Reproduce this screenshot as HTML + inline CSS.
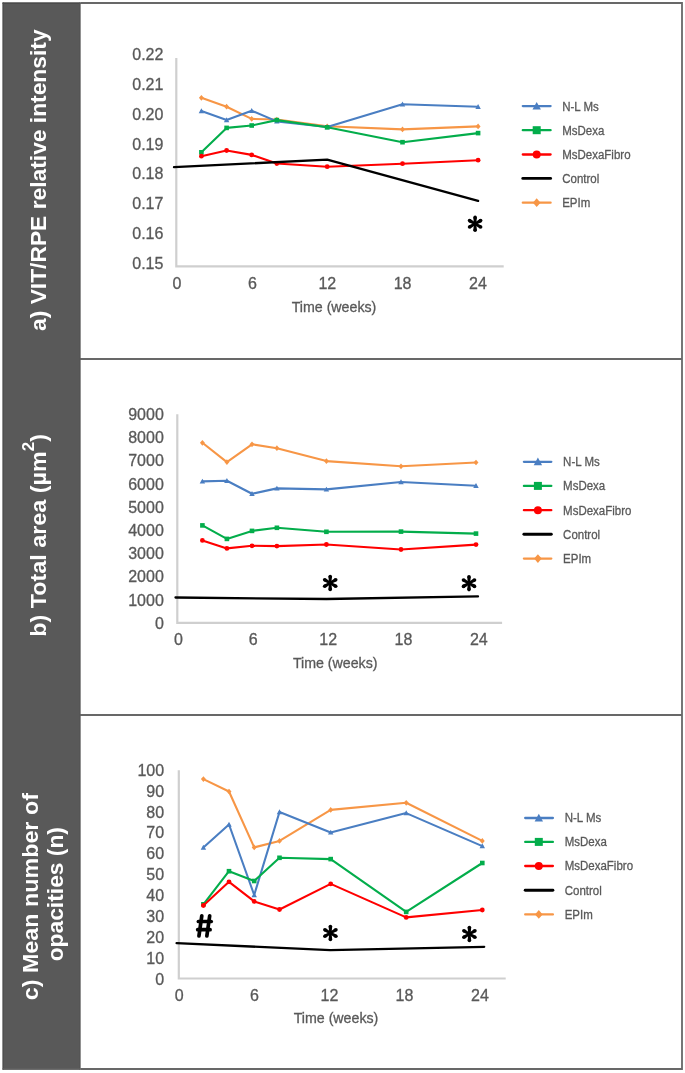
<!DOCTYPE html><html><head><meta charset="utf-8"><style>html,body{margin:0;padding:0;background:#fff}svg{display:block;will-change:transform}text{font-family:"Liberation Sans",sans-serif}text.t{stroke:#595959;stroke-width:0.3px}</style></head><body>
<svg width="685" height="1073" viewBox="0 0 685 1073">
<rect x="0" y="0" width="685" height="1073" fill="#fff"/>
<rect x="2.5" y="2.5" width="78" height="1067.3" fill="#595959"/>
<line x1="80" y1="359" x2="682" y2="359" stroke="#686868" stroke-width="1.8"/>
<line x1="80" y1="715" x2="682" y2="715" stroke="#686868" stroke-width="1.8"/>
<path d="M80.5,3 H682 V1069 H80.5" fill="none" stroke="#686868" stroke-width="1.8"/>
<line x1="2.5" y1="3.3" x2="80.5" y2="3.3" stroke="#4b4b4b" stroke-width="1.4"/>
<line x1="3.3" y1="2.5" x2="3.3" y2="1069.8" stroke="#505050" stroke-width="1.2"/>
<line x1="79.8" y1="2.5" x2="79.8" y2="1069.8" stroke="#555" stroke-width="1"/>
<line x1="2.5" y1="1068.9" x2="80.5" y2="1068.9" stroke="#626262" stroke-width="1.2"/>
<g font-weight="bold" fill="#fff" font-size="22.8" text-anchor="middle">
<text transform="translate(46.3,180.2) rotate(-90)">a) VIT/RPE relative intensity</text>
<text transform="translate(46.1,535.4) rotate(-90) scale(1.024,1)">b) Total area (µm<tspan font-size="16.5" dy="-12">2</tspan><tspan dy="12">)</tspan></text>
<text transform="translate(37.6,896.7) rotate(-90) scale(1.023,1)">c) Mean number of</text>
<text transform="translate(63.1,894.2) rotate(-90)">opacities (n)</text>
</g>
<path d="M176.3,58 V266.4 H503.7" fill="none" stroke="#CFCFCF" stroke-width="2.2"/>
<text class="t" x="163.4" y="59.73" text-anchor="end" font-size="16" fill="#595959">0.22</text>
<text class="t" x="163.4" y="89.66" text-anchor="end" font-size="16" fill="#595959">0.21</text>
<text class="t" x="163.4" y="119.59" text-anchor="end" font-size="16" fill="#595959">0.20</text>
<text class="t" x="163.4" y="149.52" text-anchor="end" font-size="16" fill="#595959">0.19</text>
<text class="t" x="163.4" y="179.45" text-anchor="end" font-size="16" fill="#595959">0.18</text>
<text class="t" x="163.4" y="209.38" text-anchor="end" font-size="16" fill="#595959">0.17</text>
<text class="t" x="163.4" y="239.31" text-anchor="end" font-size="16" fill="#595959">0.16</text>
<text class="t" x="163.4" y="269.24" text-anchor="end" font-size="16" fill="#595959">0.15</text>
<text class="t" x="177" y="288.6" text-anchor="middle" font-size="16" fill="#595959">0</text>
<text class="t" x="252.4" y="288.6" text-anchor="middle" font-size="16" fill="#595959">6</text>
<text class="t" x="327.3" y="288.6" text-anchor="middle" font-size="16" fill="#595959">12</text>
<text class="t" x="402.6" y="288.6" text-anchor="middle" font-size="16" fill="#595959">18</text>
<text class="t" x="477.9" y="288.6" text-anchor="middle" font-size="16" fill="#595959">24</text>
<text class="t" x="334" y="312" text-anchor="middle" font-size="14.2" fill="#595959">Time (weeks)</text>
<polyline points="201.4,97.8 226.6,106.7 251.7,118.9 276.8,119.5 327.2,126.3 402.5,129.4 478.1,126.4" fill="none" stroke="#F79646" stroke-width="2.1" stroke-linejoin="round" stroke-linecap="round"/>
<polygon points="201.4,94.94 203.87,97.8 201.4,100.66 198.93,97.8" fill="#F79646"/>
<polygon points="226.6,103.84 229.07,106.7 226.6,109.56 224.13,106.7" fill="#F79646"/>
<polygon points="251.7,116.04 254.17,118.9 251.7,121.76 249.23,118.9" fill="#F79646"/>
<polygon points="276.8,116.64 279.27,119.5 276.8,122.36 274.33,119.5" fill="#F79646"/>
<polygon points="327.2,123.44 329.67,126.3 327.2,129.16 324.73,126.3" fill="#F79646"/>
<polygon points="402.5,126.54 404.97,129.4 402.5,132.26 400.03,129.4" fill="#F79646"/>
<polygon points="478.1,123.54 480.57,126.4 478.1,129.26 475.63,126.4" fill="#F79646"/>
<polyline points="201.4,111.1 226.6,120 251.7,110.7 276.8,121.4 327.2,127 402.5,104.2 478.1,106.8" fill="none" stroke="#4A7EC2" stroke-width="2.1" stroke-linejoin="round" stroke-linecap="round"/>
<polygon points="201.4,108.37 198.67,113.31 204.13,113.31" fill="#4A7EC2"/>
<polygon points="226.6,117.27 223.87,122.21 229.33,122.21" fill="#4A7EC2"/>
<polygon points="251.7,107.97 248.97,112.91 254.43,112.91" fill="#4A7EC2"/>
<polygon points="276.8,118.67 274.07,123.61 279.53,123.61" fill="#4A7EC2"/>
<polygon points="327.2,124.27 324.47,129.21 329.93,129.21" fill="#4A7EC2"/>
<polygon points="402.5,101.47 399.77,106.41 405.23,106.41" fill="#4A7EC2"/>
<polygon points="478.1,104.07 475.37,109.01 480.83,109.01" fill="#4A7EC2"/>
<polyline points="201.4,152.3 226.6,127.9 251.7,125.5 276.8,120.1 327.2,127.3 402.5,142.2 478.1,133.1" fill="none" stroke="#03AD4B" stroke-width="2.1" stroke-linejoin="round" stroke-linecap="round"/>
<rect x="199.1" y="150" width="4.6" height="4.6" fill="#03AD4B"/>
<rect x="224.3" y="125.6" width="4.6" height="4.6" fill="#03AD4B"/>
<rect x="249.4" y="123.2" width="4.6" height="4.6" fill="#03AD4B"/>
<rect x="274.5" y="117.8" width="4.6" height="4.6" fill="#03AD4B"/>
<rect x="324.9" y="125" width="4.6" height="4.6" fill="#03AD4B"/>
<rect x="400.2" y="139.9" width="4.6" height="4.6" fill="#03AD4B"/>
<rect x="475.8" y="130.8" width="4.6" height="4.6" fill="#03AD4B"/>
<polyline points="201.4,156.2 226.6,150.5 251.7,154.9 276.8,163.5 327.2,166.7 402.5,163.7 478.1,160.2" fill="none" stroke="#FF0000" stroke-width="2.1" stroke-linejoin="round" stroke-linecap="round"/>
<circle cx="201.4" cy="156.2" r="2.4" fill="#FF0000"/>
<circle cx="226.6" cy="150.5" r="2.4" fill="#FF0000"/>
<circle cx="251.7" cy="154.9" r="2.4" fill="#FF0000"/>
<circle cx="276.8" cy="163.5" r="2.4" fill="#FF0000"/>
<circle cx="327.2" cy="166.7" r="2.4" fill="#FF0000"/>
<circle cx="402.5" cy="163.7" r="2.4" fill="#FF0000"/>
<circle cx="478.1" cy="160.2" r="2.4" fill="#FF0000"/>
<polyline points="174,167.1 327.2,159.7 478.1,200.9" fill="none" stroke="#000000" stroke-width="2.3" stroke-linejoin="round" stroke-linecap="round"/>
<line x1="522.8" y1="106.1" x2="550.6" y2="106.1" stroke="#4A7EC2" stroke-width="2.3" stroke-linecap="round"/>
<polygon points="536.7,101.9 532.5,109.5 540.9,109.5" fill="#4A7EC2"/>
<text class="t" transform="translate(562.2,110.5) scale(0.92,1)" font-size="12.5" fill="#595959">N-L Ms</text>
<line x1="522.8" y1="130.2" x2="550.6" y2="130.2" stroke="#03AD4B" stroke-width="2.3" stroke-linecap="round"/>
<rect x="532.7" y="126.2" width="8" height="8" fill="#03AD4B"/>
<text class="t" transform="translate(562.2,134.6) scale(0.92,1)" font-size="12.5" fill="#595959">MsDexa</text>
<line x1="522.8" y1="154.5" x2="550.6" y2="154.5" stroke="#FF0000" stroke-width="2.3" stroke-linecap="round"/>
<circle cx="536.7" cy="154.5" r="4" fill="#FF0000"/>
<text class="t" transform="translate(562.2,158.9) scale(0.92,1)" font-size="12.5" fill="#595959">MsDexaFibro</text>
<line x1="522.8" y1="178.4" x2="550.6" y2="178.4" stroke="#000000" stroke-width="2.9" stroke-linecap="round"/>
<text class="t" transform="translate(562.2,182.8) scale(0.92,1)" font-size="12.5" fill="#595959">Control</text>
<line x1="522.8" y1="202.7" x2="550.6" y2="202.7" stroke="#F79646" stroke-width="2.3" stroke-linecap="round"/>
<polygon points="536.7,198.3 540.5,202.7 536.7,207.1 532.9,202.7" fill="#F79646"/>
<text class="t" transform="translate(562.2,207.1) scale(0.92,1)" font-size="12.5" fill="#595959">EPIm</text>
<path d="M476.25,223.8 L476.9,217.4 L473.3,217.4 L473.95,223.8 Z" fill="#000"/><circle cx="475.1" cy="217.4" r="1.8" fill="#000"/><path d="M475.68,224.8 L481.54,222.16 L479.74,219.04 L474.53,222.8 Z" fill="#000"/><circle cx="480.64" cy="220.6" r="1.8" fill="#000"/><path d="M474.53,224.8 L479.74,228.56 L481.54,225.44 L475.68,222.8 Z" fill="#000"/><circle cx="480.64" cy="227" r="1.8" fill="#000"/><path d="M473.95,223.8 L473.3,230.2 L476.9,230.2 L476.25,223.8 Z" fill="#000"/><circle cx="475.1" cy="230.2" r="1.8" fill="#000"/><path d="M474.53,222.8 L468.66,225.44 L470.46,228.56 L475.68,224.8 Z" fill="#000"/><circle cx="469.56" cy="227" r="1.8" fill="#000"/><path d="M475.68,222.8 L470.46,219.04 L468.66,222.16 L474.53,224.8 Z" fill="#000"/><circle cx="469.56" cy="220.6" r="1.8" fill="#000"/>
<path d="M177.3,414.2 V622.8 H502.1" fill="none" stroke="#CFCFCF" stroke-width="2.2"/>
<text class="t" x="163.8" y="420.13" text-anchor="end" font-size="16" fill="#595959">9000</text>
<text class="t" x="163.8" y="443.31" text-anchor="end" font-size="16" fill="#595959">8000</text>
<text class="t" x="163.8" y="466.49" text-anchor="end" font-size="16" fill="#595959">7000</text>
<text class="t" x="163.8" y="489.67" text-anchor="end" font-size="16" fill="#595959">6000</text>
<text class="t" x="163.8" y="512.85" text-anchor="end" font-size="16" fill="#595959">5000</text>
<text class="t" x="163.8" y="536.03" text-anchor="end" font-size="16" fill="#595959">4000</text>
<text class="t" x="163.8" y="559.21" text-anchor="end" font-size="16" fill="#595959">3000</text>
<text class="t" x="163.8" y="582.39" text-anchor="end" font-size="16" fill="#595959">2000</text>
<text class="t" x="163.8" y="605.57" text-anchor="end" font-size="16" fill="#595959">1000</text>
<text class="t" x="163.8" y="628.75" text-anchor="end" font-size="16" fill="#595959">0</text>
<text class="t" x="178.4" y="644.7" text-anchor="middle" font-size="16" fill="#595959">0</text>
<text class="t" x="253.3" y="644.7" text-anchor="middle" font-size="16" fill="#595959">6</text>
<text class="t" x="328.2" y="644.7" text-anchor="middle" font-size="16" fill="#595959">12</text>
<text class="t" x="403.5" y="644.7" text-anchor="middle" font-size="16" fill="#595959">18</text>
<text class="t" x="478.8" y="644.7" text-anchor="middle" font-size="16" fill="#595959">24</text>
<text class="t" x="335.2" y="667.9" text-anchor="middle" font-size="14.2" fill="#595959">Time (weeks)</text>
<polyline points="202.4,442.8 226.9,462.1 252,444.3 276.9,448.2 326.4,461.1 401,466.3 476,462.5" fill="none" stroke="#F79646" stroke-width="2.1" stroke-linejoin="round" stroke-linecap="round"/>
<polygon points="202.4,439.94 204.87,442.8 202.4,445.66 199.93,442.8" fill="#F79646"/>
<polygon points="226.9,459.24 229.37,462.1 226.9,464.96 224.43,462.1" fill="#F79646"/>
<polygon points="252,441.44 254.47,444.3 252,447.16 249.53,444.3" fill="#F79646"/>
<polygon points="276.9,445.34 279.37,448.2 276.9,451.06 274.43,448.2" fill="#F79646"/>
<polygon points="326.4,458.24 328.87,461.1 326.4,463.96 323.93,461.1" fill="#F79646"/>
<polygon points="401,463.44 403.47,466.3 401,469.16 398.53,466.3" fill="#F79646"/>
<polygon points="476,459.64 478.47,462.5 476,465.36 473.53,462.5" fill="#F79646"/>
<polyline points="202.4,481.4 226.9,480.7 252,493.8 276.9,488.4 326.4,489.4 401,482 476,485.7" fill="none" stroke="#4A7EC2" stroke-width="2.1" stroke-linejoin="round" stroke-linecap="round"/>
<polygon points="202.4,478.67 199.67,483.61 205.13,483.61" fill="#4A7EC2"/>
<polygon points="226.9,477.97 224.17,482.91 229.63,482.91" fill="#4A7EC2"/>
<polygon points="252,491.07 249.27,496.01 254.73,496.01" fill="#4A7EC2"/>
<polygon points="276.9,485.67 274.17,490.61 279.63,490.61" fill="#4A7EC2"/>
<polygon points="326.4,486.67 323.67,491.61 329.13,491.61" fill="#4A7EC2"/>
<polygon points="401,479.27 398.27,484.21 403.73,484.21" fill="#4A7EC2"/>
<polygon points="476,482.97 473.27,487.91 478.73,487.91" fill="#4A7EC2"/>
<polyline points="202.4,525.4 226.9,538.9 252,530.9 276.9,527.8 326.4,531.8 401,531.6 476,533.6" fill="none" stroke="#03AD4B" stroke-width="2.1" stroke-linejoin="round" stroke-linecap="round"/>
<rect x="200.1" y="523.1" width="4.6" height="4.6" fill="#03AD4B"/>
<rect x="224.6" y="536.6" width="4.6" height="4.6" fill="#03AD4B"/>
<rect x="249.7" y="528.6" width="4.6" height="4.6" fill="#03AD4B"/>
<rect x="274.6" y="525.5" width="4.6" height="4.6" fill="#03AD4B"/>
<rect x="324.1" y="529.5" width="4.6" height="4.6" fill="#03AD4B"/>
<rect x="398.7" y="529.3" width="4.6" height="4.6" fill="#03AD4B"/>
<rect x="473.7" y="531.3" width="4.6" height="4.6" fill="#03AD4B"/>
<polyline points="202.4,540.4 226.9,548.4 252,545.8 276.9,546.1 326.4,544.5 401,549.5 476,544.6" fill="none" stroke="#FF0000" stroke-width="2.1" stroke-linejoin="round" stroke-linecap="round"/>
<circle cx="202.4" cy="540.4" r="2.4" fill="#FF0000"/>
<circle cx="226.9" cy="548.4" r="2.4" fill="#FF0000"/>
<circle cx="252" cy="545.8" r="2.4" fill="#FF0000"/>
<circle cx="276.9" cy="546.1" r="2.4" fill="#FF0000"/>
<circle cx="326.4" cy="544.5" r="2.4" fill="#FF0000"/>
<circle cx="401" cy="549.5" r="2.4" fill="#FF0000"/>
<circle cx="476" cy="544.6" r="2.4" fill="#FF0000"/>
<polyline points="175.5,597.5 326.4,599 478,596.4" fill="none" stroke="#000000" stroke-width="2.3" stroke-linejoin="round" stroke-linecap="round"/>
<line x1="523.9" y1="461.8" x2="551.3" y2="461.8" stroke="#4A7EC2" stroke-width="2.3" stroke-linecap="round"/>
<polygon points="537.9,457.6 533.7,465.2 542.1,465.2" fill="#4A7EC2"/>
<text class="t" transform="translate(563.1,466.2) scale(0.92,1)" font-size="12.5" fill="#595959">N-L Ms</text>
<line x1="523.9" y1="485.9" x2="551.3" y2="485.9" stroke="#03AD4B" stroke-width="2.3" stroke-linecap="round"/>
<rect x="533.9" y="481.9" width="8" height="8" fill="#03AD4B"/>
<text class="t" transform="translate(563.1,490.3) scale(0.92,1)" font-size="12.5" fill="#595959">MsDexa</text>
<line x1="523.9" y1="510.2" x2="551.3" y2="510.2" stroke="#FF0000" stroke-width="2.3" stroke-linecap="round"/>
<circle cx="537.9" cy="510.2" r="4" fill="#FF0000"/>
<text class="t" transform="translate(563.1,514.6) scale(0.92,1)" font-size="12.5" fill="#595959">MsDexaFibro</text>
<line x1="523.9" y1="534.3" x2="551.3" y2="534.3" stroke="#000000" stroke-width="2.9" stroke-linecap="round"/>
<text class="t" transform="translate(563.1,538.7) scale(0.92,1)" font-size="12.5" fill="#595959">Control</text>
<line x1="523.9" y1="558.6" x2="551.3" y2="558.6" stroke="#F79646" stroke-width="2.3" stroke-linecap="round"/>
<polygon points="537.9,554.2 541.7,558.6 537.9,563 534.1,558.6" fill="#F79646"/>
<text class="t" transform="translate(563.1,563) scale(0.92,1)" font-size="12.5" fill="#595959">EPIm</text>
<path d="M331.35,583 L332,576.6 L328.4,576.6 L329.05,583 Z" fill="#000"/><circle cx="330.2" cy="576.6" r="1.8" fill="#000"/><path d="M330.77,584 L336.64,581.36 L334.84,578.24 L329.62,582 Z" fill="#000"/><circle cx="335.74" cy="579.8" r="1.8" fill="#000"/><path d="M329.62,584 L334.84,587.76 L336.64,584.64 L330.77,582 Z" fill="#000"/><circle cx="335.74" cy="586.2" r="1.8" fill="#000"/><path d="M329.05,583 L328.4,589.4 L332,589.4 L331.35,583 Z" fill="#000"/><circle cx="330.2" cy="589.4" r="1.8" fill="#000"/><path d="M329.62,582 L323.76,584.64 L325.56,587.76 L330.77,584 Z" fill="#000"/><circle cx="324.66" cy="586.2" r="1.8" fill="#000"/><path d="M330.77,582 L325.56,578.24 L323.76,581.36 L329.62,584 Z" fill="#000"/><circle cx="324.66" cy="579.8" r="1.8" fill="#000"/>
<path d="M470.15,583.2 L470.8,576.8 L467.2,576.8 L467.85,583.2 Z" fill="#000"/><circle cx="469" cy="576.8" r="1.8" fill="#000"/><path d="M469.57,584.2 L475.44,581.56 L473.64,578.44 L468.43,582.2 Z" fill="#000"/><circle cx="474.54" cy="580" r="1.8" fill="#000"/><path d="M468.43,584.2 L473.64,587.96 L475.44,584.84 L469.57,582.2 Z" fill="#000"/><circle cx="474.54" cy="586.4" r="1.8" fill="#000"/><path d="M467.85,583.2 L467.2,589.6 L470.8,589.6 L470.15,583.2 Z" fill="#000"/><circle cx="469" cy="589.6" r="1.8" fill="#000"/><path d="M468.43,582.2 L462.56,584.84 L464.36,587.96 L469.57,584.2 Z" fill="#000"/><circle cx="463.46" cy="586.4" r="1.8" fill="#000"/><path d="M469.57,582.2 L464.36,578.44 L462.56,581.56 L468.43,584.2 Z" fill="#000"/><circle cx="463.46" cy="580" r="1.8" fill="#000"/>
<path d="M178.8,770.2 V978.5 H505.7" fill="none" stroke="#CFCFCF" stroke-width="2.2"/>
<text class="t" x="164.1" y="775.73" text-anchor="end" font-size="16" fill="#595959">100</text>
<text class="t" x="164.1" y="796.65" text-anchor="end" font-size="16" fill="#595959">90</text>
<text class="t" x="164.1" y="817.57" text-anchor="end" font-size="16" fill="#595959">80</text>
<text class="t" x="164.1" y="838.49" text-anchor="end" font-size="16" fill="#595959">70</text>
<text class="t" x="164.1" y="859.41" text-anchor="end" font-size="16" fill="#595959">60</text>
<text class="t" x="164.1" y="880.33" text-anchor="end" font-size="16" fill="#595959">50</text>
<text class="t" x="164.1" y="901.25" text-anchor="end" font-size="16" fill="#595959">40</text>
<text class="t" x="164.1" y="922.17" text-anchor="end" font-size="16" fill="#595959">30</text>
<text class="t" x="164.1" y="943.09" text-anchor="end" font-size="16" fill="#595959">20</text>
<text class="t" x="164.1" y="964.01" text-anchor="end" font-size="16" fill="#595959">10</text>
<text class="t" x="164.1" y="984.93" text-anchor="end" font-size="16" fill="#595959">0</text>
<text class="t" x="179.3" y="1001" text-anchor="middle" font-size="16" fill="#595959">0</text>
<text class="t" x="254.4" y="1001" text-anchor="middle" font-size="16" fill="#595959">6</text>
<text class="t" x="329.5" y="1001" text-anchor="middle" font-size="16" fill="#595959">12</text>
<text class="t" x="404.5" y="1001" text-anchor="middle" font-size="16" fill="#595959">18</text>
<text class="t" x="480" y="1001" text-anchor="middle" font-size="16" fill="#595959">24</text>
<text class="t" x="336" y="1023.4" text-anchor="middle" font-size="14.2" fill="#595959">Time (weeks)</text>
<polyline points="203.4,779.1 229,791.5 254.2,847.4 279.5,840.9 330.7,809.9 406.2,802.8 482.3,840.9" fill="none" stroke="#F79646" stroke-width="2.1" stroke-linejoin="round" stroke-linecap="round"/>
<polygon points="203.4,776.24 205.87,779.1 203.4,781.96 200.93,779.1" fill="#F79646"/>
<polygon points="229,788.64 231.47,791.5 229,794.36 226.53,791.5" fill="#F79646"/>
<polygon points="254.2,844.54 256.67,847.4 254.2,850.26 251.73,847.4" fill="#F79646"/>
<polygon points="279.5,838.04 281.97,840.9 279.5,843.76 277.03,840.9" fill="#F79646"/>
<polygon points="330.7,807.04 333.17,809.9 330.7,812.76 328.23,809.9" fill="#F79646"/>
<polygon points="406.2,799.94 408.67,802.8 406.2,805.66 403.73,802.8" fill="#F79646"/>
<polygon points="482.3,838.04 484.77,840.9 482.3,843.76 479.83,840.9" fill="#F79646"/>
<polyline points="203.4,847.5 229,824.5 254.2,895 279.5,812 330.7,832.4 406.2,813.1 482.3,846.1" fill="none" stroke="#4A7EC2" stroke-width="2.1" stroke-linejoin="round" stroke-linecap="round"/>
<polygon points="203.4,844.77 200.67,849.71 206.13,849.71" fill="#4A7EC2"/>
<polygon points="229,821.77 226.27,826.71 231.73,826.71" fill="#4A7EC2"/>
<polygon points="254.2,892.27 251.47,897.21 256.93,897.21" fill="#4A7EC2"/>
<polygon points="279.5,809.27 276.77,814.21 282.23,814.21" fill="#4A7EC2"/>
<polygon points="330.7,829.67 327.97,834.61 333.43,834.61" fill="#4A7EC2"/>
<polygon points="406.2,810.37 403.47,815.31 408.93,815.31" fill="#4A7EC2"/>
<polygon points="482.3,843.37 479.57,848.31 485.03,848.31" fill="#4A7EC2"/>
<polyline points="203.4,904.3 229,871.2 254.2,881 279.5,857.8 330.7,859.1 406.2,911.9 482.3,863" fill="none" stroke="#03AD4B" stroke-width="2.1" stroke-linejoin="round" stroke-linecap="round"/>
<rect x="201.1" y="902" width="4.6" height="4.6" fill="#03AD4B"/>
<rect x="226.7" y="868.9" width="4.6" height="4.6" fill="#03AD4B"/>
<rect x="251.9" y="878.7" width="4.6" height="4.6" fill="#03AD4B"/>
<rect x="277.2" y="855.5" width="4.6" height="4.6" fill="#03AD4B"/>
<rect x="328.4" y="856.8" width="4.6" height="4.6" fill="#03AD4B"/>
<rect x="403.9" y="909.6" width="4.6" height="4.6" fill="#03AD4B"/>
<rect x="480" y="860.7" width="4.6" height="4.6" fill="#03AD4B"/>
<polyline points="203.4,905.5 229,881.8 254.2,901.4 279.5,909.5 330.7,883.9 406.2,917.4 482.3,910" fill="none" stroke="#FF0000" stroke-width="2.1" stroke-linejoin="round" stroke-linecap="round"/>
<circle cx="203.4" cy="905.5" r="2.4" fill="#FF0000"/>
<circle cx="229" cy="881.8" r="2.4" fill="#FF0000"/>
<circle cx="254.2" cy="901.4" r="2.4" fill="#FF0000"/>
<circle cx="279.5" cy="909.5" r="2.4" fill="#FF0000"/>
<circle cx="330.7" cy="883.9" r="2.4" fill="#FF0000"/>
<circle cx="406.2" cy="917.4" r="2.4" fill="#FF0000"/>
<circle cx="482.3" cy="910" r="2.4" fill="#FF0000"/>
<polyline points="176.6,943.1 330.3,950.2 484.2,946.8" fill="none" stroke="#000000" stroke-width="2.3" stroke-linejoin="round" stroke-linecap="round"/>
<line x1="525.2" y1="818" x2="552.9" y2="818" stroke="#4A7EC2" stroke-width="2.3" stroke-linecap="round"/>
<polygon points="538.8,813.8 534.6,821.4 543,821.4" fill="#4A7EC2"/>
<text class="t" transform="translate(564.7,822.4) scale(0.92,1)" font-size="12.5" fill="#595959">N-L Ms</text>
<line x1="525.2" y1="841.9" x2="552.9" y2="841.9" stroke="#03AD4B" stroke-width="2.3" stroke-linecap="round"/>
<rect x="534.8" y="837.9" width="8" height="8" fill="#03AD4B"/>
<text class="t" transform="translate(564.7,846.3) scale(0.92,1)" font-size="12.5" fill="#595959">MsDexa</text>
<line x1="525.2" y1="866" x2="552.9" y2="866" stroke="#FF0000" stroke-width="2.3" stroke-linecap="round"/>
<circle cx="538.8" cy="866" r="4" fill="#FF0000"/>
<text class="t" transform="translate(564.7,870.4) scale(0.92,1)" font-size="12.5" fill="#595959">MsDexaFibro</text>
<line x1="525.2" y1="890.3" x2="552.9" y2="890.3" stroke="#000000" stroke-width="2.9" stroke-linecap="round"/>
<text class="t" transform="translate(564.7,894.7) scale(0.92,1)" font-size="12.5" fill="#595959">Control</text>
<line x1="525.2" y1="914.4" x2="552.9" y2="914.4" stroke="#F79646" stroke-width="2.3" stroke-linecap="round"/>
<polygon points="538.8,910 542.6,914.4 538.8,918.8 535,914.4" fill="#F79646"/>
<text class="t" transform="translate(564.7,918.8) scale(0.92,1)" font-size="12.5" fill="#595959">EPIm</text>
<path d="M331.55,933 L332.2,926.6 L328.6,926.6 L329.25,933 Z" fill="#000"/><circle cx="330.4" cy="926.6" r="1.8" fill="#000"/><path d="M330.97,934 L336.84,931.36 L335.04,928.24 L329.82,932 Z" fill="#000"/><circle cx="335.94" cy="929.8" r="1.8" fill="#000"/><path d="M329.82,934 L335.04,937.76 L336.84,934.64 L330.97,932 Z" fill="#000"/><circle cx="335.94" cy="936.2" r="1.8" fill="#000"/><path d="M329.25,933 L328.6,939.4 L332.2,939.4 L331.55,933 Z" fill="#000"/><circle cx="330.4" cy="939.4" r="1.8" fill="#000"/><path d="M329.82,932 L323.96,934.64 L325.76,937.76 L330.97,934 Z" fill="#000"/><circle cx="324.86" cy="936.2" r="1.8" fill="#000"/><path d="M330.97,932 L325.76,928.24 L323.96,931.36 L329.82,934 Z" fill="#000"/><circle cx="324.86" cy="929.8" r="1.8" fill="#000"/>
<path d="M470.55,934 L471.2,927.6 L467.6,927.6 L468.25,934 Z" fill="#000"/><circle cx="469.4" cy="927.6" r="1.8" fill="#000"/><path d="M469.97,935 L475.84,932.36 L474.04,929.24 L468.82,933 Z" fill="#000"/><circle cx="474.94" cy="930.8" r="1.8" fill="#000"/><path d="M468.82,935 L474.04,938.76 L475.84,935.64 L469.97,933 Z" fill="#000"/><circle cx="474.94" cy="937.2" r="1.8" fill="#000"/><path d="M468.25,934 L467.6,940.4 L471.2,940.4 L470.55,934 Z" fill="#000"/><circle cx="469.4" cy="940.4" r="1.8" fill="#000"/><path d="M468.82,933 L462.96,935.64 L464.76,938.76 L469.97,935 Z" fill="#000"/><circle cx="463.86" cy="937.2" r="1.8" fill="#000"/><path d="M469.97,933 L464.76,929.24 L462.96,932.36 L468.82,935 Z" fill="#000"/><circle cx="463.86" cy="930.8" r="1.8" fill="#000"/>
<g stroke="#000" stroke-width="3.7" stroke-linecap="round" fill="none">
<line x1="201.8" y1="915.8" x2="198.95" y2="935.9"/>
<line x1="209.7" y1="915.8" x2="206.85" y2="935.9"/>
<line x1="198.4" y1="921.5" x2="211.2" y2="921.5"/>
<line x1="197.7" y1="929.7" x2="210.1" y2="929.7"/>
</g>
</svg></body></html>
